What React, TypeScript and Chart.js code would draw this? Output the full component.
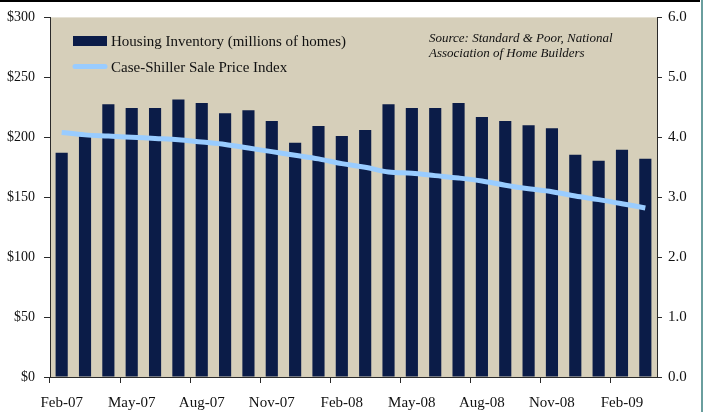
import React, { useEffect, useRef } from "react";
import { Chart, registerables } from "chart.js";

Chart.register(...registerables);

const months = [
  "Feb-07", "Mar-07", "Apr-07", "May-07", "Jun-07", "Jul-07", "Aug-07", "Sep-07", "Oct-07",
  "Nov-07", "Dec-07", "Jan-08", "Feb-08", "Mar-08", "Apr-08", "May-08", "Jun-08", "Jul-08",
  "Aug-08", "Sep-08", "Oct-08", "Nov-08", "Dec-08", "Jan-09", "Feb-09", "Mar-09",
];

const inventory = [
  3.74, 4.04, 4.55, 4.49, 4.49, 4.63, 4.57, 4.40, 4.45, 4.27, 3.91, 4.19, 4.02,
  4.12, 4.55, 4.49, 4.49, 4.57, 4.34, 4.27, 4.20, 4.15, 3.71, 3.61, 3.79, 3.64,
];

const caseShiller = [
  204, 202, 201, 200, 199, 198, 196, 194, 191, 188, 185, 182, 178,
  175, 171, 170, 168, 166, 163.5, 160, 157, 154.6, 151, 148, 144.6, 141,
];

const inventoryLabel = "Housing Inventory (millions of homes)";
const priceLabel = "Case-Shiller Sale Price Index";
const sourceLines = ["Source: Standard & Poor, National", "Association of Home Builders"];

const leftTicks = [0, 50, 100, 150, 200, 250, 300];
const rightTicks = [0, 1, 2, 3, 4, 5, 6];

const NAVY = "#0B1C48";
const LIGHT = "#99CCFF";
const TAN = "#D6CFBA";
const AXIS = "#2a2a2a";
const FONT = "'Liberation Serif', 'Times New Roman', serif";

const decorPlugin = {
  id: "decor",
  beforeDraw(chart: any) {
    const { ctx, chartArea } = chart;
    ctx.save();
    ctx.fillStyle = "#ffffff";
    ctx.fillRect(0, 0, chart.width, chart.height);
    ctx.fillStyle = TAN;
    ctx.fillRect(chartArea.left, chartArea.top, chartArea.right - chartArea.left, chartArea.bottom - chartArea.top);
    ctx.restore();
  },
  afterDraw(chart: any) {
    const { ctx } = chart;
    ctx.save();
    // frame lines
    ctx.fillStyle = "#000000";
    ctx.fillRect(0, 0, 700, 2);
    ctx.fillStyle = "#6A9E9E";
    ctx.fillRect(701, 0, 2, chart.height);
    // legend
    ctx.fillStyle = NAVY;
    ctx.fillRect(73, 36, 34, 10);
    ctx.strokeStyle = LIGHT;
    ctx.lineWidth = 5;
    ctx.lineCap = "round";
    ctx.beginPath();
    ctx.moveTo(75, 66.5);
    ctx.lineTo(105, 66.5);
    ctx.stroke();
    ctx.fillStyle = "#111111";
    ctx.textBaseline = "middle";
    ctx.textAlign = "left";
    ctx.font = `15px ${FONT}`;
    ctx.fillText(chart.data.datasets[1].label, 111, 42);
    ctx.fillText(chart.data.datasets[0].label, 111, 68);
    ctx.font = `italic 13px ${FONT}`;
    ctx.fillText(sourceLines[0], 429, 39);
    ctx.fillText(sourceLines[1], 429, 54);
    ctx.restore();
  },
};

export default function App() {
  const ref = useRef<HTMLCanvasElement | null>(null);
  useEffect(() => {
    document.body.style.margin = "0";
    const canvas = ref.current!;
    const chart = new Chart(canvas, {
      type: "bar",
      data: {
        labels: months,
        datasets: [
          {
            type: "line",
            label: priceLabel,
            data: caseShiller,
            yAxisID: "y",
            borderColor: LIGHT,
            backgroundColor: LIGHT,
            borderWidth: 5,
            pointRadius: 0,
            tension: 0.35,
            order: 0,
          } as any,
          {
            type: "bar",
            label: inventoryLabel,
            data: inventory,
            yAxisID: "y1",
            backgroundColor: NAVY,
            barPercentage: 0.52,
            categoryPercentage: 1,
            order: 1,
          },
        ],
      },
      options: {
        responsive: false,
        animation: false,
        maintainAspectRatio: false,
        layout: { padding: { top: 9, left: 0, right: 0, bottom: 0 } },
        plugins: { legend: { display: false }, tooltip: { enabled: false } },
        scales: {
          x: {
            type: "category",
            offset: true,
            afterFit: (s: any) => { s.height = 35; },
            grid: {
              offset: true,
              drawOnChartArea: false,
              drawTicks: true,
              tickLength: 6,
              color: (c: any) => (c.index !== undefined && c.index % 3 === 0 ? AXIS : "rgba(0,0,0,0)"),
            },
            border: { display: true, color: AXIS, width: 1 },
            ticks: {
              autoSkip: false,
              maxRotation: 0,
              padding: 11,
              color: "#111111",
              font: { family: FONT, size: 15 },
              callback: (_v: any, i: number) => (i % 3 === 0 ? months[i] : ""),
            },
          },
          y: {
            position: "left",
            min: 0,
            max: 300,
            afterFit: (s: any) => { s.width = 50; },
            afterBuildTicks: (s: any) => { s.ticks = leftTicks.map((v) => ({ value: v })); },
            grid: { drawOnChartArea: false, drawTicks: true, tickLength: 6, color: AXIS },
            border: { display: true, color: AXIS, width: 1 },
            ticks: {
              padding: 9,
              color: "#111111",
              font: { family: FONT, size: 14 },
              callback: (v: any) => "$" + v,
            },
          },
          y1: {
            position: "right",
            min: 0,
            max: 6,
            afterFit: (s: any) => { s.width = 49; },
            afterBuildTicks: (s: any) => { s.ticks = rightTicks.map((v) => ({ value: v })); },
            grid: { drawOnChartArea: false, drawTicks: true, tickLength: 5, color: AXIS },
            border: { display: true, color: AXIS, width: 1 },
            ticks: {
              padding: 6,
              color: "#111111",
              font: { family: FONT, size: 15 },
              callback: (v: any) => Number(v).toFixed(1),
            },
          },
        },
      },
      plugins: [decorPlugin],
    });
    return () => chart.destroy();
  }, []);
  return (
    <div style={{ position: "absolute", left: 0, top: 0, width: 706, height: 412 }}>
      <canvas ref={ref} width={706} height={412} style={{ width: 706, height: 412, display: "block" }} />
    </div>
  );
}
